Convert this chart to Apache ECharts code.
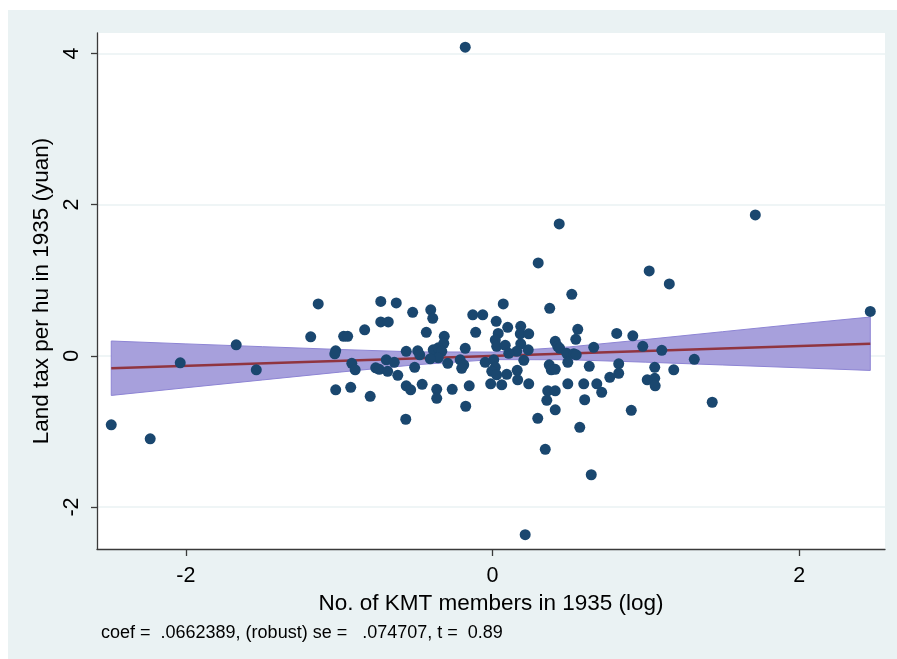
<!DOCTYPE html>
<html>
<head>
<meta charset="utf-8">
<script src="https://cdn.jsdelivr.net/npm/echarts@6/dist/echarts.min.js"></script>
<style>
  html, body { margin: 0; padding: 0; background: #ffffff; }
  #chart { width: 897px; height: 659px; }
</style>
</head>
<body>
<div id="chart"></div>
<script>
// Residualised scatter: KMT membership (log) vs. land tax per hu, 1935
const memberLog = [
  -2.487, -2.233, -2.037, -1.672, -1.541, -1.137, -1.186, -0.971, -0.945, -1.023,
  -1.029, -1.023, -0.925, -0.918, -0.896, -0.834, -0.729, -0.628, -0.729, -0.680,
  -0.798, -0.762, -0.739, -0.684, -0.693, -0.641, -0.618, -0.563, -0.521, -0.432,
  -0.403, -0.390, -0.488, -0.475, -0.508, -0.563, -0.534, -0.459, -0.566, -0.364,
  -0.364, -0.315, -0.318, -0.387, -0.354, -0.331, -0.354, -0.406, -0.292, -0.263,
  -0.178, -0.211, -0.188, -0.201, -0.152, -0.175, -0.129, -0.064, -0.110, 0.070,
  0.024, 0.099, 0.184, 0.181, 0.236, 0.037, 0.018, 0.027, 0.083, 0.184,
  0.233, 0.158, 0.106, 0.204, -0.048, 0.008, 0.018, -0.005, 0.027, 0.093,
  0.161, 0.164, -0.012, 0.060, 0.236, 0.517, 0.373, 0.409, 0.425, 0.438,
  0.484, 0.530, 0.546, 0.556, 0.543, 0.491, 0.370, 0.383, 0.409, 0.631,
  0.660, 0.810, 0.915, 0.980, 1.104, 0.823, 0.823, 0.765, 1.058, 1.009,
  1.058, 1.061, 0.491, 0.595, 0.680, 0.712, 0.360, 0.409, 0.354, 0.601,
  0.409, 0.295, 0.905, 0.569, 0.344, 1.153, 2.464, 1.316, 1.182, 1.433,
  -0.178, 0.213, 0.435, 1.714, 0.298, 1.022, 0.644
];
const landTax = [
  -0.912, -1.097, -0.093, 0.145, -0.185, 0.687, 0.251, 0.258, 0.258, 0.066,
  0.026, -0.449, -0.416, -0.099, -0.185, 0.344, 0.720, 0.700, 0.449, 0.449,
  -0.535, -0.159, -0.178, -0.205, -0.053, -0.086, -0.258, 0.059, 0.575, 0.311,
  0.608, 0.496, 0.066, 0.013, -0.152, -0.396, -0.449, -0.377, -0.839, -0.443,
  -0.562, 0.258, 0.165, 0.079, 0.106, 0.059, -0.026, -0.040, -0.099, -0.443,
  0.099, -0.053, -0.119, -0.165, -0.396, -0.667, 0.542, 0.542, 0.311, 0.687,
  0.456, 0.377, 0.390, 0.291, 0.291, 0.297, 0.211, 0.126, 0.139, 0.159,
  0.079, 0.059, 0.033, -0.059, -0.086, -0.053, -0.152, -0.205, -0.251, -0.244,
  -0.192, -0.317, -0.370, -0.383, -0.370, 0.813, 0.628, 0.192, 0.126, 0.099,
  0.033, 0.026, 0.013, 0.350, 0.218, -0.086, -0.119, -0.185, -0.178, -0.139,
  0.112, 0.297, 0.264, 0.126, 0.073, -0.106, -0.231, -0.284, -0.152, -0.317,
  -0.297, -0.396, -0.370, -0.370, -0.370, -0.482, -0.463, -0.463, -0.588, -0.581,
  -0.714, -0.826, -0.720, -0.945, -1.236, 0.951, 0.588, -0.046, -0.185, -0.614,
  4.083, -2.365, 1.744, 1.863, 1.229, 1.123, -1.573
];

// Tick labels
const xTicks = [-2, 0, 2];
const yTicks = [-2, 0, 2, 4];

// Fitted line and its confidence band
const fitX = [-2.487, 2.464];
const fitY = [-0.164, 0.160];
const bandX  = [-2.487, -2.0, -1.5, -1.0, -0.5, 0.0, 0.5, 1.0, 1.5, 2.0, 2.464];
const bandHi = [0.196, 0.158, 0.121, 0.084, 0.052, 0.050, 0.118, 0.216, 0.319, 0.422, 0.513];
const bandLo = [-0.524, -0.422, -0.319, -0.216, -0.118, -0.050, -0.052, -0.084, -0.121, -0.158, -0.193];

const xTitle = 'No. of KMT members in 1935 (log)';
const yTitle = 'Land tax per hu in 1935 (yuan)';
const noteText = 'coef =  .0662389, (robust) se =   .074707, t =  0.89';

const FONT = '"Liberation Sans", Arial, Helvetica, sans-serif';
const INK = '#000000';
const AXIS = '#3a3a3a';
const REGION = '#eaf2f3';

const points = memberLog.map((x, i) => [x, landTax[i]]);
const fitLine = fitX.map((x, i) => [x, fitY[i]]);

const chart = echarts.init(document.getElementById('chart'), null, { renderer: 'canvas' });

chart.setOption({
  animation: false,
  backgroundColor: '#ffffff',
  graphic: [{
    type: 'rect',
    left: 8, top: 10,
    shape: { width: 889, height: 649 },
    style: { fill: REGION },
    z: -10,
    silent: true
  }],
  title: {
    text: noteText,
    left: 96, top: 619,
    textStyle: { fontFamily: FONT, fontSize: 18, fontWeight: 'normal', color: INK }
  },
  grid: {
    left: 97, right: 12, top: 33, bottom: 110,
    show: true, backgroundColor: '#ffffff', borderWidth: 0
  },
  xAxis: {
    type: 'value',
    min: -2.58, max: 2.56,
    name: xTitle,
    nameLocation: 'middle',
    nameGap: 38,
    nameTextStyle: { fontFamily: FONT, fontSize: 22.5, color: INK },
    axisLine: { show: true, onZero: false, lineStyle: { color: AXIS, width: 1.3 } },
    axisTick: { show: true, length: 7, customValues: xTicks, lineStyle: { color: AXIS, width: 1.3 } },
    axisLabel: { customValues: xTicks, margin: 16, fontFamily: FONT, fontSize: 21.5, color: INK },
    splitLine: { show: false }
  },
  yAxis: {
    type: 'value',
    min: -2.555, max: 4.27,
    name: yTitle,
    nameLocation: 'middle',
    nameRotate: 90,
    nameGap: 37,
    nameTextStyle: { fontFamily: FONT, fontSize: 22.5, color: INK },
    axisLine: { show: true, onZero: false, lineStyle: { color: AXIS, width: 1.3 } },
    axisTick: { show: true, length: 6, customValues: yTicks, lineStyle: { color: AXIS, width: 1.3 } },
    axisLabel: { customValues: yTicks, rotate: 90, margin: 14, fontFamily: FONT, fontSize: 21.5, color: INK },
    splitLine: { show: true, lineStyle: { color: REGION, width: 1.5 } }
  },
  series: [
    {
      type: 'custom',
      coordinateSystem: 'cartesian2d',
      silent: true,
      z: 2,
      data: [[bandX[0], bandLo[0]]],
      renderItem: function (params, api) {
        const pts = [];
        for (let i = 0; i < bandX.length; i++) pts.push(api.coord([bandX[i], bandHi[i]]));
        for (let i = bandX.length - 1; i >= 0; i--) pts.push(api.coord([bandX[i], bandLo[i]]));
        return {
          type: 'polygon',
          shape: { points: pts },
          style: { fill: '#a7a0dc', stroke: '#8d84d4', lineWidth: 1 }
        };
      }
    },
    {
      type: 'line',
      data: fitLine,
      z: 3,
      symbol: 'none',
      silent: true,
      lineStyle: { color: '#903540', width: 2.6 }
    },
    {
      type: 'scatter',
      data: points,
      z: 4,
      symbol: 'circle',
      symbolSize: 11,
      itemStyle: { color: '#1a476f', opacity: 1 }
    }
  ]
});
</script>
</body>
</html>
